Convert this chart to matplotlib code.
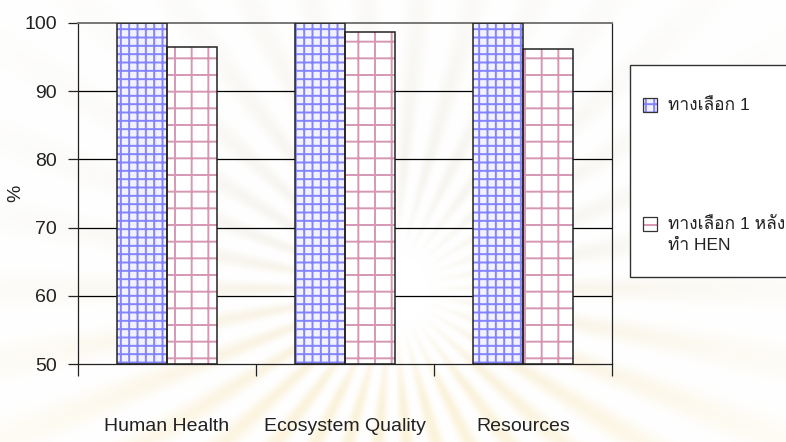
import numpy as np
import matplotlib
matplotlib.use("Agg")
import matplotlib.pyplot as plt
from matplotlib.patches import Rectangle

# ---- data -------------------------------------------------------------
categories = ["Human Health", "Ecosystem Quality", "Resources"]
series_names = ["ทางเลือก 1", "ทางเลือก 1 หลังทำ HEN"]
option1 = [100.0, 100.0, 100.0]
option1_hen = [96.4, 98.7, 96.1]
y_ticks = [50, 60, 70, 80, 90, 100]

# ---- style ------------------------------------------------------------
W, H = 786, 442
plt.rcParams["font.family"] = ["Liberation Sans", "Loma", "DejaVu Sans"]
plt.rcParams["hatch.linewidth"] = 1.4

blue_fill, blue_hatch = "#f2f2ff", "#8484ff"
pink_fill, pink_hatch = "#ffffff", "#d697b3"
ink = "#222222"

fig = plt.figure(figsize=(W / 100, H / 100), dpi=100)
fig.patch.set_facecolor("white")

# faint sunburst emblem in the page background
bg = fig.add_axes([0, 0, 1, 1], zorder=-5)
yy, xx = np.mgrid[0:H, 0:W].astype(float)
cx, cy = 392.0, 288.0
dx, dy = xx - cx, yy - cy
r = np.hypot(dx, dy)
theta = np.arctan2(dy, dx)
rays = (0.5 + 0.5 * np.cos(34 * theta)) ** 1.5
fade = np.clip((r - 35) / 80, 0, 1) * np.exp(-(r / 340) ** 2)
strength = 0.22 * rays * fade
gold = np.array([238, 188, 56]) / 255.0
beige = np.array([212, 204, 180]) / 255.0
wmix = np.clip(0.3 + dy / 200, 0, 1)[..., None]
ray_col = wmix * gold + (1 - wmix) * beige
img = 1 - strength[..., None] * (1 - ray_col)
bg.imshow(img, extent=[0, W, H, 0], aspect="auto", interpolation="bilinear")
bg.set_xlim(0, W)
bg.set_ylim(H, 0)
bg.axis("off")

# ---- main axes ----------------------------------------------------------
ax = fig.add_axes([78 / W, 1 - 364.3 / H, (612 - 78) / W, (364.3 - 22.7) / H])
ax.set_facecolor("none")

x = np.arange(len(categories))
bw = 0.283
off = bw / 2
base = y_ticks[0]

for v in y_ticks[1:-1]:
    ax.axhline(v, color="black", lw=0.9, zorder=0.5)

# hatched fill layers, then dark outlines on top
ax.bar(x - off, [v - base for v in option1], bw, bottom=base,
       color=blue_fill, edgecolor=blue_hatch, hatch="++", linewidth=0, zorder=2)
ax.bar(x + off, [v - base for v in option1_hen], bw, bottom=base,
       color=pink_fill, edgecolor=pink_hatch, hatch="+", linewidth=0, zorder=2)
ax.bar(x - off, [v - base for v in option1], bw, bottom=base,
       fill=False, edgecolor=ink, linewidth=1.1, zorder=3)
ax.bar(x + off, [v - base for v in option1_hen], bw, bottom=base,
       fill=False, edgecolor=ink, linewidth=1.1, zorder=3)

ax.set_ylim(y_ticks[0], y_ticks[-1])
ax.set_xlim(-0.5, len(categories) - 0.5)
ax.set_yticks(y_ticks)
ax.set_yticklabels([str(t) for t in y_ticks], fontsize=14, color=ink)
ax.tick_params(axis="y", direction="out", length=7, width=0.9, pad=8, color=ink)

ax.set_xticks(np.arange(len(categories) + 1) - 0.5)
ax.set_xticklabels([])
ax.tick_params(axis="x", which="major", direction="out", length=8.5, width=0.9,
               color=ink)
ax.set_xticks(x, minor=True)
ax.set_xticklabels(categories, minor=True, fontsize=14, color=ink)
ax.tick_params(axis="x", which="minor", length=0, pad=39)

ax.set_ylabel("%", fontsize=14, color=ink, labelpad=0)

for side in ("left", "bottom", "right"):
    ax.spines[side].set_color(ink)
    ax.spines[side].set_linewidth(0.9)
ax.spines["top"].set_color("#777777")
ax.spines["top"].set_linewidth(1.4)

# ---- legend box (runs off the right edge of the page) ------------------
def px(xp, yp):
    return xp / W, 1 - yp / H

lx0, ly0, lx1, ly1 = 630, 65, 800, 277
fig.patches.append(Rectangle(px(lx0, ly1), (lx1 - lx0) / W, (ly1 - ly0) / H,
                             transform=fig.transFigure, facecolor="white",
                             edgecolor="#333333", linewidth=1.0, zorder=1))

legend_rows = [
    (blue_fill, blue_hatch, "++", [series_names[0]], 105),
    (pink_fill, pink_hatch, "+", ["ทางเลือก 1 หลัง", "ทำ HEN"], 224),
]
sq = 14
for face, hcol, hatch, lines, yc in legend_rows:
    fig.patches.append(Rectangle(px(643, yc + sq / 2), sq / W, sq / H,
                                 transform=fig.transFigure, facecolor=face,
                                 edgecolor=hcol, hatch=hatch, linewidth=0, zorder=2))
    fig.patches.append(Rectangle(px(643, yc + sq / 2), sq / W, sq / H,
                                 transform=fig.transFigure, fill=False,
                                 edgecolor="#333333", linewidth=0.9, zorder=3))
    for i, line in enumerate(lines):
        fig.text(*px(668, yc + 22 * i), line, fontsize=12.5, va="center", ha="left",
                 color=ink, zorder=4)

fig.savefig("out.png", dpi=100)
